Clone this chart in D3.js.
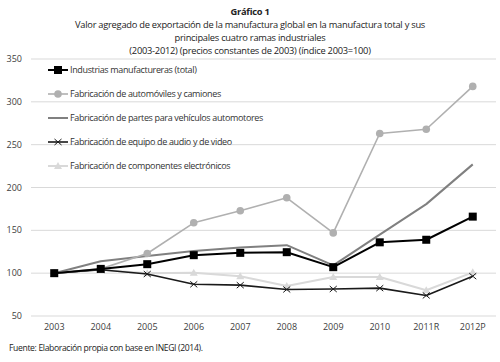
<!DOCTYPE html>
<html>
<head>
<meta charset="utf-8">
<script src="https://cdn.jsdelivr.net/npm/d3@7"></script>
<style>
  html, body { margin: 0; padding: 0; background: #fff; }
  svg { display: block; font-family: "Open Sans", sans-serif; }
</style>
</head>
<body>
<svg id="chart" width="500" height="362"></svg>
<script>
// ── Data ─────────────────────────────────────────────────────────────────────

const years = ["2003", "2004", "2005", "2006", "2007", "2008", "2009", "2010", "2011R", "2012P"];
const yTicks = [50, 100, 150, 200, 250, 300, 350];

const totalVals = [100, 105, 110.5, 121, 123.7, 124.5, 107, 136, 139, 166];
const autosVals = [100, 105, 123, 158.8, 172.8, 188, 147, 263, 268, 318];
const partsVals = [100, 114, 120, 126, 130, 132.7, 109, 145, 180.6, 227];
const audioVals = [100, 104, 99, 87, 86, 81, 81.5, 82.5, 74, 96.5];
const elecVals = [100, 104, 100, 100.4, 96.5, 85, 95.5, 95.5, 80, 101];

const series = [
  { name: "Industrias manufactureras (total)", values: totalVals, color: "#000", width: 2, marker: "square" },
  { name: "Fabricación de automóviles y camiones", values: autosVals, color: "#b0b0b0", width: 1.6, marker: "circle" },
  { name: "Fabricación de partes para vehículos automotores", values: partsVals, color: "#808080", width: 2, marker: "none" },
  { name: "Fabricación de equipo de audio y de video", values: audioVals, color: "#1a1a1a", width: 1.6, marker: "x" },
  { name: "Fabricación de componentes electrónicos", values: elecVals, color: "#d9d9d9", width: 2, marker: "triangle" },
];

// ── Layout ───────────────────────────────────────────────────────────────────

const svg = d3.select("#chart");
const margin = { left: 31, right: 4 };
const W = 500;

const x = d3.scaleBand().domain(years).range([margin.left, W - margin.right]);
const y = d3.scaleLinear().domain([50, 350]).range([316, 59]);

// Title
const titleLines = [
  { text: "Gráfico 1", bold: true, y: 15.3 },
  { text: "Valor agregado de exportación de la manufactura global en la manufactura total y sus", y: 28.1 },
  { text: "principales cuatro ramas industriales", y: 40.9 },
  { text: "(2003-2012) (precios constantes de 2003) (índice 2003=100)", y: 53.7 },
];
svg.append("g").selectAll("text")
  .data(titleLines)
  .join("text")
  .attr("x", 250)
  .attr("y", (d) => d.y)
  .attr("text-anchor", "middle")
  .attr("font-size", 9.3)
  .attr("font-weight", (d) => d.bold ? "bold" : "normal")
  .attr("fill", "#222")
  .attr("letter-spacing", -0.25)
  .text((d) => d.text);

// Gridlines
svg.append("g").selectAll("line")
  .data(yTicks)
  .join("line")
  .attr("x1", margin.left)
  .attr("x2", W - margin.right)
  .attr("y1", (d) => y(d))
  .attr("y2", (d) => y(d))
  .attr("stroke", "#d9d9d9")
  .attr("stroke-width", 1);

// Y axis labels
svg.append("g").selectAll("text")
  .data(yTicks)
  .join("text")
  .attr("x", 22)
  .attr("y", (d) => y(d) + 3)
  .attr("text-anchor", "end")
  .attr("font-size", 9)
  .attr("fill", "#404040")
  .text((d) => d);

// X axis labels
svg.append("g").selectAll("text")
  .data(years)
  .join("text")
  .attr("x", (d) => x(d) + x.bandwidth() / 2)
  .attr("y", 330)
  .attr("text-anchor", "middle")
  .attr("font-size", 9)
  .attr("fill", "#404040")
  .text((d) => d);

// Markers
function drawMarker(g, type, color, cx, cy) {
  if (type === "square") {
    g.append("rect").attr("x", cx - 4).attr("y", cy - 4).attr("width", 8).attr("height", 8).attr("fill", color);
  } else if (type === "circle") {
    g.append("circle").attr("cx", cx).attr("cy", cy).attr("r", 3.8).attr("fill", color);
  } else if (type === "x") {
    g.append("path").attr("d", `M${cx - 3.5},${cy - 3}L${cx + 3.5},${cy + 3}M${cx - 3.5},${cy + 3}L${cx + 3.5},${cy - 3}`)
      .attr("stroke", color).attr("stroke-width", 1);
  } else if (type === "triangle") {
    g.append("path").attr("d", `M${cx},${cy - 4}L${cx + 4},${cy + 3}L${cx - 4},${cy + 3}Z`).attr("fill", color);
  }
}

// Lines (draw back to front)
const line = d3.line()
  .x((d, i) => x(years[i]) + x.bandwidth() / 2)
  .y((d) => y(d));

const drawOrder = [4, 3, 2, 1, 0];
for (const idx of drawOrder) {
  const s = series[idx];
  const g = svg.append("g");
  g.append("path")
    .attr("d", line(s.values))
    .attr("fill", "none")
    .attr("stroke", s.color)
    .attr("stroke-width", s.width)
    .attr("stroke-linejoin", "round");
  s.values.forEach((v, i) => drawMarker(g, s.marker, s.color, x(years[i]) + x.bandwidth() / 2, y(v)));
}

// Legend
const legend = svg.append("g");
series.forEach((s, i) => {
  const ly = 70 + i * 24;
  const g = legend.append("g");
  g.append("line")
    .attr("x1", 48).attr("x2", 68)
    .attr("y1", ly).attr("y2", ly)
    .attr("stroke", s.color).attr("stroke-width", s.width);
  drawMarker(g, s.marker, s.color, 58, ly);
  g.append("text")
    .attr("x", 70)
    .attr("y", ly + 3)
    .attr("font-size", 9)
    .attr("fill", "#333")
    .attr("letter-spacing", -0.35)
    .text(s.name);
});

// Source
svg.append("text")
  .attr("x", 9)
  .attr("y", 351)
  .attr("font-size", 8.6)
  .attr("fill", "#222")
  .attr("letter-spacing", -0.35)
  .text("Fuente: Elaboración propia con base en INEGI (2014).");
</script>
</body>
</html>
